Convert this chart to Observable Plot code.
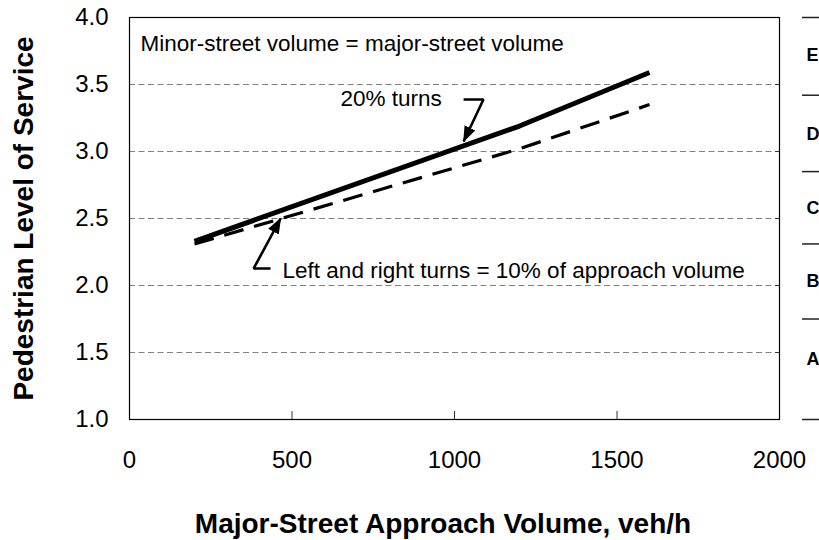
<!DOCTYPE html>
<html><head><meta charset="utf-8">
<script src="https://cdn.jsdelivr.net/npm/d3@7"></script>
<script src="https://cdn.jsdelivr.net/npm/@observablehq/plot@0.6"></script>
<style>body{margin:0;background:#fff} svg{display:block}</style>
</head><body><div id="chart"></div>
<script>
// Series: pedestrian LOS score vs major-street approach volume
const volume20 = [200, 1200, 1600];
const los20 = [2.33, 3.19, 3.59];
const volume10 = [200, 1200, 1600];
const los10 = [2.31, 3.02, 3.35];

// Axes
const xTicks = [0, 500, 1000, 1500, 2000];
const xInnerTicks = [500, 1000, 1500];
const yTicks = [1.0, 1.5, 2.0, 2.5, 3.0, 3.5, 4.0];
const gridValues = [1.5, 2.0, 2.5, 3.0, 3.5];

// LOS scale on the right
const losGrades = ["E", "D", "C", "B", "A"];
const losLabelAt = [3.72, 3.13, 2.58, 2.03, 1.45];
const losBounds = [1.0, 1.75, 2.31, 2.85, 3.42, 4.0];

// Annotations (data coordinates)
const noteTexts = ["Minor-street volume = major-street volume", "20% turns", "Left and right turns = 10% of approach volume"];
const noteX = [34, 649, 471];
const noteY = [3.807, 3.39, 2.113];
const arrow20X = [1028, 1089, 1028];
const arrow20Y = [3.388, 3.388, 3.075];
const arrow10X = [434, 382, 465];
const arrow10Y = [2.127, 2.127, 2.50];

const s20 = volume20.map((v, i) => ({v, los: los20[i]}));
const s10 = volume10.map((v, i) => ({v, los: los10[i]}));
const notes = noteTexts.map((t, i) => ({t, x: noteX[i], y: noteY[i]}));
const a20 = arrow20X.map((x, i) => ({x, y: arrow20Y[i]}));
const a10 = arrow10X.map((x, i) => ({x, y: arrow10Y[i]}));
const los = losGrades.map((g, i) => ({g, y: losLabelAt[i]}));

const chart = Plot.plot({
  width: 819,
  height: 540,
  marginLeft: 129,
  marginRight: 40,
  marginTop: 17,
  marginBottom: 121,
  x: {domain: [0, 2000]},
  y: {domain: [1, 4]},
  style: {fontFamily: "'Liberation Sans', Arial, sans-serif", background: "#fff", overflow: "visible", color: "#000"},
  marks: [
    Plot.ruleY(gridValues, {stroke: "#808080", strokeWidth: 1, strokeDasharray: "6,3.5"}),
    Plot.axisY(yTicks, {anchor: "left", tickSize: 0, tickPadding: 21, fontSize: 24, tickFormat: d3.format(".1f"), label: null}),
    Plot.axisY(gridValues, {anchor: "right", tickSize: -5, tickFormat: () => "", label: null, stroke: "#333"}),
    Plot.axisX(xTicks, {anchor: "bottom", tickSize: 0, tickPadding: 31, fontSize: 24, tickFormat: d => String(d), label: null}),
    Plot.axisX(xInnerTicks, {anchor: "bottom", tickSize: -8, tickFormat: () => "", label: null, stroke: "#333"}),
    Plot.frame({stroke: "#000", strokeWidth: 1.2}),
    Plot.line(s10, {x: "v", y: "los", stroke: "#000", strokeWidth: 3.2, strokeDasharray: "20,11", strokeLinecap: "butt", strokeLinejoin: "miter"}),
    Plot.line(s20, {x: "v", y: "los", stroke: "#000", strokeWidth: 5, strokeLinecap: "butt", strokeLinejoin: "round"}),
    Plot.line(a20, {x: "x", y: "y", stroke: "#000", strokeWidth: 2.6, strokeLinecap: "butt", strokeLinejoin: "miter"}),
    Plot.line(a10, {x: "x", y: "y", stroke: "#000", strokeWidth: 2.6, strokeLinecap: "butt", strokeLinejoin: "miter"}),
    Plot.text(notes, {x: "x", y: "y", text: "t", textAnchor: "start", lineAnchor: "middle", fontSize: 22.5, fill: "#000"}),
    Plot.ruleY(losBounds, {insetLeft: 673, insetRight: -40, stroke: "#222", strokeWidth: 1.5}),
    Plot.text(los, {y: "y", text: "g", frameAnchor: "right", dx: 27, textAnchor: "start", lineAnchor: "middle", fontSize: 18, fontWeight: "bold", fill: "#000"}),
    Plot.text(["Pedestrian Level of Service"], {text: d => d, frameAnchor: "left", rotate: -90, dx: -105, textAnchor: "middle", lineAnchor: "middle", fontSize: 28, fontWeight: "bold", fill: "#000"}),
    Plot.text(["Major-Street Approach Volume, veh/h"], {text: d => d, frameAnchor: "bottom", dx: -11.5, dy: 105, textAnchor: "middle", lineAnchor: "middle", fontSize: 28, fontWeight: "bold", fill: "#000"})
  ]
});

// filled arrowheads for the annotation leaders
const ns = "http://www.w3.org/2000/svg";
const defs = document.createElementNS(ns, "defs");
const marker = document.createElementNS(ns, "marker");
marker.setAttribute("id", "ahead");
marker.setAttribute("viewBox", "0 0 16 12");
marker.setAttribute("refX", "15");
marker.setAttribute("refY", "6");
marker.setAttribute("markerWidth", "16");
marker.setAttribute("markerHeight", "12");
marker.setAttribute("markerUnits", "userSpaceOnUse");
marker.setAttribute("orient", "auto");
const mp = document.createElementNS(ns, "path");
mp.setAttribute("d", "M0,0L16,6L0,12Z");
mp.setAttribute("fill", "#000");
mp.setAttribute("stroke", "none");
marker.appendChild(mp);
defs.appendChild(marker);
chart.insertBefore(defs, chart.firstChild);
chart.querySelectorAll('g[stroke-width="2.6"] path').forEach(p => p.setAttribute("marker-end", "url(#ahead)"));

document.getElementById("chart").appendChild(chart);
</script>
</body></html>
